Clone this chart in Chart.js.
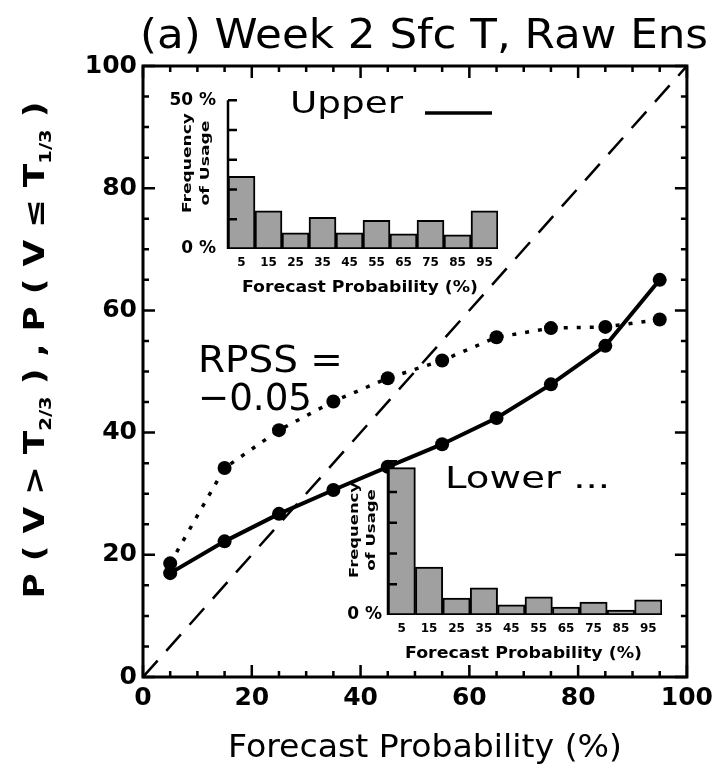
<!DOCTYPE html>
<html><head><meta charset="utf-8">
<script src="https://cdn.jsdelivr.net/npm/chart.js@4/dist/chart.umd.min.js"></script>
<style>
html,body{margin:0;padding:0;background:#fff;}
#wrap{position:relative;width:719px;height:774px;overflow:hidden;}
canvas{position:absolute;}
</style></head><body>
<div id="wrap">
<canvas id="main" width="719" height="774" style="left:0;top:0"></canvas>
<canvas id="upInset" width="380" height="225" style="left:140px;top:78px"></canvas>
<canvas id="loInset" width="360" height="225" style="left:320px;top:445px"></canvas>
</div>
<script>
// ---- data ----
const probBins = [5, 15, 25, 35, 45, 55, 65, 75, 85, 95];
const upperObs = [17.0, 22.2, 26.7, 30.6, 34.4, 38.1, 42.4, 47.9, 54.2, 65.0];
const lowerObs = [18.6, 34.2, 40.4, 45.1, 48.9, 51.8, 55.6, 57.1, 57.3, 58.5];
const diagX = [0, 100];
const diagY = [0, 100];
const upperFreq = [24.4, 12.8, 5.4, 10.6, 5.4, 9.6, 5.1, 9.6, 4.8, 12.8];
const lowerFreq = [47.9, 15.6, 5.5, 8.8, 3.3, 5.9, 2.6, 4.2, 1.6, 4.9];
const mainTicks = [0, 20, 40, 60, 80, 100];
const insetTickLabels = ['5', '15', '25', '35', '45', '55', '65', '75', '85', '95'];
const titleText = '(a) Week 2 Sfc T, Raw Ens';
const xTitleText = 'Forecast Probability (%)';
const rpssText = ['RPSS =', '\u22120.05'];

const FONT = "'DejaVu Sans', 'Liberation Sans', sans-serif";

function fitText(ctx, text, x, y, font, width, align) {
  ctx.save();
  ctx.font = font;
  ctx.fillStyle = '#000';
  ctx.textBaseline = 'alphabetic';
  ctx.textAlign = 'left';
  const w = ctx.measureText(text).width;
  const sx = width / w;
  ctx.translate(x, y);
  ctx.scale(sx, 1);
  ctx.fillText(text, align === 'center' ? -w / 2 : 0, 0);
  ctx.restore();
}

function rotText(ctx, text, cx, baseX, font, length) {
  // vertical text reading bottom-to-top, centred at y=cx, baseline at x=baseX
  ctx.save();
  ctx.translate(baseX, cx);
  ctx.rotate(-Math.PI / 2);
  fitText(ctx, text, 0, 0, font, length, 'center');
  ctx.restore();
}

const mainDecor = {
  id: 'mainDecor',
  afterDraw(chart) {
    const ctx = chart.ctx;
    const a = chart.chartArea;
    const xs = chart.scales.x, ys = chart.scales.y;
    ctx.save();
    ctx.strokeStyle = '#000';
    ctx.lineWidth = 3;
    ctx.strokeRect(a.left, a.top, a.right - a.left, a.bottom - a.top);
    ctx.lineWidth = 2.5;
    ctx.beginPath();
    for (let v = 0; v <= 100; v += 5) {
      const len = (v % 20 === 0) ? 12 : 6;
      const px = xs.getPixelForValue(v);
      ctx.moveTo(px, a.bottom); ctx.lineTo(px, a.bottom - len);
      ctx.moveTo(px, a.top); ctx.lineTo(px, a.top + len);
      const py = ys.getPixelForValue(v);
      ctx.moveTo(a.left, py); ctx.lineTo(a.left + len, py);
      ctx.moveTo(a.right, py); ctx.lineTo(a.right - len, py);
    }
    ctx.stroke();

    // title
    fitText(ctx, titleText, 140, 48, '40px ' + FONT, 568);
    // x title
    fitText(ctx, xTitleText, 228, 757, '32px ' + FONT, 394);
    // y title with subscripts
    ctx.save();
    ctx.translate(44, 350);
    ctx.rotate(-Math.PI / 2);
    const pieces = [['P ( V > T', 0], ['2/3', 1], [' ) , P ( V \u2264 T', 0], ['1/3', 1], [' )', 0]];
    const mf = 'bold 28px ' + FONT, sf = 'bold 16px ' + FONT;
    let total = 0;
    const ws = pieces.map(p => { ctx.font = p[1] ? sf : mf; const w = ctx.measureText(p[0]).width; total += w; return w; });
    const sx = 497 / total;
    ctx.scale(sx, 1);
    ctx.fillStyle = '#000';
    let x = -total / 2;
    pieces.forEach((p, i) => { ctx.font = p[1] ? sf : mf; ctx.fillText(p[0], x, p[1] ? 7 : 0); x += ws[i]; });
    ctx.restore();

    // annotations
    fitText(ctx, 'Upper', 290, 113, '30px ' + FONT, 113);
    ctx.lineWidth = 3.5;
    ctx.beginPath(); ctx.moveTo(425, 113); ctx.lineTo(492, 113); ctx.stroke();
    fitText(ctx, 'Lower ...', 445, 488, '31px ' + FONT, 165);
    fitText(ctx, rpssText[0], 198, 372, '37px ' + FONT, 145);
    fitText(ctx, rpssText[1], 198, 410, '37px ' + FONT, 114);
    ctx.restore();
  }
};

new Chart(document.getElementById('main'), {
  type: 'scatter',
  data: {
    datasets: [
      { label: 'perfect', data: diagX.map((v, i) => ({ x: v, y: diagY[i] })), showLine: true,
        borderColor: '#000', borderWidth: 2.5, borderDash: [22, 13], pointRadius: 0, order: 3 },
      { label: 'Upper', data: probBins.map((p, i) => ({ x: p, y: upperObs[i] })), showLine: true,
        borderColor: '#000', borderWidth: 4, pointRadius: 7, pointBackgroundColor: '#000', pointBorderWidth: 0, order: 1 },
      { label: 'Lower', data: probBins.map((p, i) => ({ x: p, y: lowerObs[i] })), showLine: true,
        borderColor: '#000', borderWidth: 3.5, borderDash: [4, 9], pointRadius: 7, pointBackgroundColor: '#000', pointBorderWidth: 0, order: 2 }
    ]
  },
  options: {
    responsive: false, animation: false, devicePixelRatio: 1,
    layout: { padding: { left: 0, right: 32, top: 66, bottom: 0 } },
    plugins: { legend: { display: false }, tooltip: { enabled: false }, title: { display: false } },
    scales: {
      x: { type: 'linear', min: 0, max: 100,
        afterBuildTicks(s) { s.ticks = mainTicks.map(v => ({ value: v })); },
        ticks: { font: { family: FONT, size: 25, weight: 'bold' }, color: '#000', padding: 6, maxRotation: 0, autoSkip: false },
        grid: { display: false, drawTicks: false }, border: { display: false },
        afterFit(s) { s.height = 97; } },
      y: { type: 'linear', min: 0, max: 100,
        afterBuildTicks(s) { s.ticks = mainTicks.map(v => ({ value: v })); },
        ticks: { font: { family: FONT, size: 25, weight: 'bold' }, color: '#000', padding: 6, autoSkip: false },
        grid: { display: false, drawTicks: false }, border: { display: false },
        afterFit(s) { s.width = 143; } }
    }
  },
  plugins: [mainDecor]
});

function insetDecor(titleX, titleW, titleBase, yCol1, yCol2, yCenter, yLen) {
  return {
    id: 'insetDecor',
    afterDraw(chart) {
      const ctx = chart.ctx;
      const a = chart.chartArea;
      const ys = chart.scales.y;
      const off = chart.canvas.getBoundingClientRect();
      const wrap = document.getElementById('wrap').getBoundingClientRect();
      const ox = off.left - wrap.left, oy = off.top - wrap.top;
      ctx.save();
      ctx.strokeStyle = '#000';
      ctx.lineWidth = 2.5;
      ctx.beginPath();
      ctx.moveTo(a.left, ys.getPixelForValue(0));
      ctx.lineTo(a.left, ys.getPixelForValue(50));
      for (let v = 10; v <= 50; v += 10) {
        const py = ys.getPixelForValue(v);
        ctx.moveTo(a.left, py); ctx.lineTo(a.left + 9, py);
      }
      ctx.stroke();
      fitText(ctx, xTitleText, titleX - ox, titleBase - oy, 'bold 15px ' + FONT, titleW);
      rotText(ctx, 'Frequency', yCenter - oy, yCol1 - ox, 'bold 12px ' + FONT, yLen);
      rotText(ctx, 'of Usage', yCenter - oy, yCol2 - ox, 'bold 12px ' + FONT, yLen * 0.85);
      ctx.restore();
    }
  };
}

function makeInset(id, freq, pad, yW, xH, show50, deco) {
  return new Chart(document.getElementById(id), {
    type: 'bar',
    data: { labels: insetTickLabels,
      datasets: [{ data: freq, backgroundColor: '#a0a0a0', borderColor: '#000', borderWidth: 2,
        borderSkipped: false, barPercentage: 1, categoryPercentage: 1 }] },
    options: {
      responsive: false, animation: false, devicePixelRatio: 1,
      layout: { padding: pad },
      plugins: { legend: { display: false }, tooltip: { enabled: false } },
      scales: {
        x: { ticks: { font: { family: FONT, size: 12, weight: 'bold' }, color: '#000', padding: 7, maxRotation: 0, autoSkip: false },
          grid: { display: false, drawTicks: false }, border: { display: false },
          afterFit(s) { s.height = xH; } },
        y: { min: 0, max: 50,
          ticks: { stepSize: 10, font: { family: FONT, size: 17, weight: 'bold' }, color: '#000', padding: show50 ? 12 : 6,
            callback: v => v === 0 ? '0 %' : (v === 50 && show50 ? '50 %' : '') },
          grid: { display: false, drawTicks: false }, border: { display: false },
          afterFit(s) { s.width = yW; } }
      }
    },
    plugins: [deco]
  });
}

makeInset('upInset', upperFreq, { left: 0, right: 22, top: 15, bottom: 0 }, 88, 54, true,
  insetDecor(242, 236, 292, 191, 209, 163, 100));
makeInset('loInset', lowerFreq, { left: 0, right: 18, top: 15, bottom: 0 }, 68, 55, false,
  insetDecor(405, 237, 658, 358, 375, 530, 96));
</script>
</body></html>
